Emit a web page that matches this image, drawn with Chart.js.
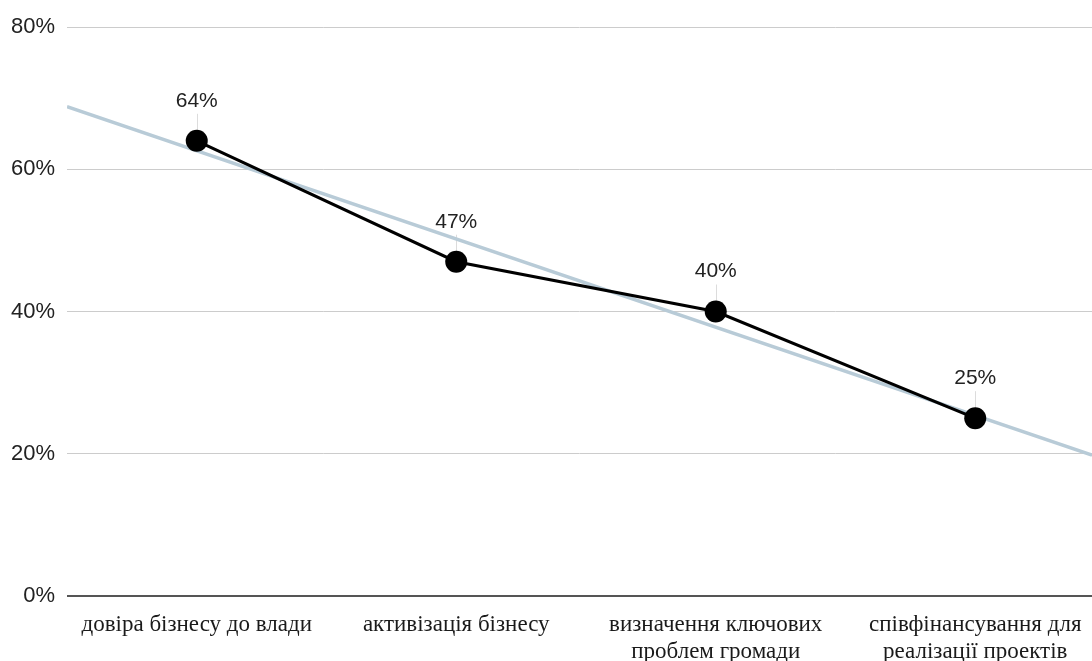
<!DOCTYPE html>
<html>
<head>
<meta charset="utf-8">
<script src="https://cdn.jsdelivr.net/npm/chart.js@4/dist/chart.umd.min.js"></script>
<style>
html,body{margin:0;padding:0;background:#fff;}
#wrap{width:1092px;height:661px;}
</style>
</head>
<body>
<div id="wrap"><canvas id="c" width="1092" height="661"></canvas></div>
<script>
const categories = [
  ['довіра бізнесу до влади'],
  ['активізація бізнесу'],
  ['визначення ключових', 'проблем громади'],
  ['співфінансування для', 'реалізації проектів']
];
const values = [64, 47, 40, 25];
const valueLabels = ['64%', '47%', '40%', '25%'];
const trendX = [-0.5, 3.45];
const trendY = [68.8, 19.8];
const yTicks = [0, 20, 40, 60, 80];

const labelPlugin = {
  id: 'pointLabels',
  beforeDatasetsDraw(chart) {
    const ctx = chart.ctx, xs = chart.scales.x, ys = chart.scales.y;
    ctx.save();
    ctx.strokeStyle = '#dcdcdc';
    ctx.lineWidth = 1;
    values.forEach((v, i) => {
      const px = Math.round(xs.getPixelForValue(i)) + 0.5;
      const py = ys.getPixelForValue(v);
      ctx.beginPath();
      ctx.moveTo(px, py - 27);
      ctx.lineTo(px, py);
      ctx.stroke();
    });
    ctx.restore();
  },
  afterDatasetsDraw(chart) {
    const ctx = chart.ctx, xs = chart.scales.x, ys = chart.scales.y;
    ctx.save();
    ctx.font = '21px "Liberation Sans", Arial, sans-serif';
    ctx.fillStyle = '#222222';
    ctx.textAlign = 'center';
    ctx.textBaseline = 'middle';
    values.forEach((v, i) => {
      ctx.fillText(valueLabels[i], xs.getPixelForValue(i), ys.getPixelForValue(v) - 40);
    });
    ctx.restore();
  }
};

new Chart(document.getElementById('c'), {
  type: 'line',
  data: {
    datasets: [
      {
        data: values.map((v, i) => ({x: i, y: v})),
        borderColor: '#000000',
        backgroundColor: '#000000',
        borderWidth: 3,
        pointRadius: 11,
        pointHoverRadius: 11,
        pointBackgroundColor: '#000000',
        pointBorderWidth: 0,
        tension: 0,
        order: 1
      },
      {
        data: trendX.map((x, i) => ({x: x, y: trendY[i]})),
        borderColor: '#b8cbd7',
        borderWidth: 3.5,
        pointRadius: 0,
        tension: 0,
        order: 2
      }
    ]
  },
  options: {
    responsive: false,
    animation: false,
    events: [],
    layout: {autoPadding: false, padding: {top: 27, right: 0, left: 0, bottom: 0}},
    plugins: {legend: {display: false}, tooltip: {enabled: false}},
    scales: {
      x: {
        type: 'linear',
        min: -0.5,
        max: 3.45,
        afterBuildTicks(scale) { scale.ticks = categories.map((c, i) => ({value: i})); },
        afterFit(scale) { scale.height = 65; scale.paddingLeft = 0; scale.paddingRight = 0; },
        grid: {display: false},
        border: {display: false},
        ticks: {
          autoSkip: false,
          maxRotation: 0,
          padding: 7,
          color: '#1a1a1a',
          font: {family: '"Liberation Serif", "Times New Roman", serif', size: 23, lineHeight: 1.174},
          callback: (v) => categories[v]
        }
      },
      y: {
        min: 0,
        max: 80,
        afterBuildTicks(scale) { scale.ticks = yTicks.map(v => ({value: v})); },
        afterFit(scale) { scale.width = 67; },
        border: {display: false},
        grid: {
          drawTicks: false,
          color: (c) => c.tick && c.tick.value === 0 ? '#555555' : '#cccccc',
          lineWidth: (c) => c.tick && c.tick.value === 0 ? 2 : 1
        },
        ticks: {
          padding: 12,
          color: '#222222',
          font: {family: '"Liberation Sans", Arial, sans-serif', size: 22},
          callback: (v) => v + '%'
        }
      }
    }
  },
  plugins: [labelPlugin]
});
</script>
</body>
</html>
